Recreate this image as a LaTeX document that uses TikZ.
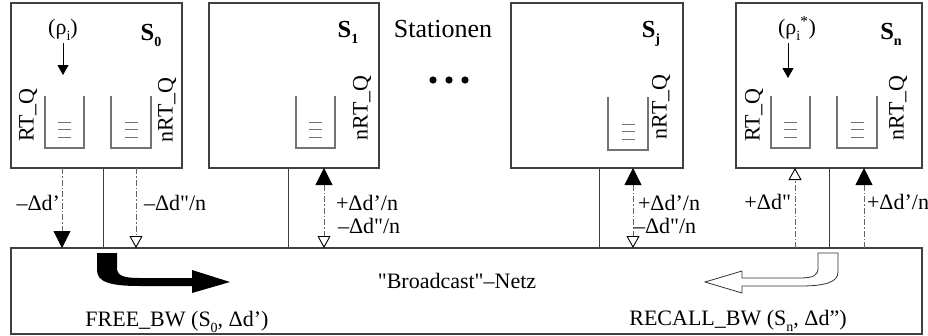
\documentclass[tikz,border=0pt]{standalone}
\usepackage{fontspec}
\setmainfont{Liberation Serif}[Ligatures=TeXOff]
\usetikzlibrary{arrows.meta}
\newcommand{\lowsub}[1]{\raisebox{-0.28em}{\fontsize{14}{14}\selectfont #1}}
\begin{document}
\begin{tikzpicture}[x=1pt,y=-1pt,
  box/.style={draw=black!75, line width=1.1pt, inner sep=0pt, outer sep=0pt},
  txt/.style={inner sep=0pt, outer sep=0pt, font=\fontsize{22}{26}\selectfont},
  big/.style={inner sep=0pt, outer sep=0pt, font=\fontsize{24.5}{28}\selectfont},
  rot/.style={txt, rotate=90},
  queue/.style={draw=black!55, line width=1.3pt},
  qline/.style={draw=black!55, line width=1pt},
  conn/.style={draw=black!75, line width=0.9pt},
  dd/.style={draw=black!60, line width=0.9pt, dash pattern=on 6pt off 2pt on 1.5pt off 2pt},
  fa/.tip={Triangle[width=17pt,length=17pt,color=black]},
  oa/.tip={Triangle[open,width=13pt,length=12pt,color=black]},
  sa/.tip={Triangle[width=11pt,length=10pt,color=black]}
]
\useasboundingbox (0,0) rectangle (928,335);

% station boxes
\node[box, minimum width=171pt, minimum height=165pt] (s0) at (96.5,85.5) {};
\node[box, minimum width=170pt, minimum height=165pt] (s1) at (294,85.5) {};
\node[box, minimum width=172pt, minimum height=165pt] (sj) at (597,85.5) {};
\node[box, minimum width=186pt, minimum height=165pt] (sn) at (829,85.5) {};
% network box
\node[box, minimum width=911pt, minimum height=86pt] (net) at (466.5,291) {};

% station labels
\node[big, anchor=base] (l0) at (151,40) {\textbf{S\lowsub{\textbf{0}}}};
\node[big, anchor=base] (l1) at (348,37) {\textbf{S\lowsub{\textbf{1}}}};
\node[big, anchor=base] (lj) at (651,37) {\textbf{S\lowsub{\textbf{j}}}};
\node[big, anchor=base] (ln) at (891,39) {\textbf{S\lowsub{\textbf{n}}}};
\node[txt, anchor=base, font=\fontsize{26}{30}\selectfont] (stat) at (443,37) {Stationen};
\fill (433,80) circle (3.6pt) (449,80) circle (3.6pt) (465,80) circle (3.6pt);

% rho arrows
\node[txt, anchor=base] (rho0) at (63,34) {(ρ\lowsub{i})};
\node[txt, anchor=base] (rhon) at (797,34) {(ρ\lowsub{i}\textsuperscript{*})};
\coordinate (r0t) at (63,43);
\coordinate (r0b) at (63,75);
\coordinate (rnt) at (788,43);
\coordinate (rnb) at (788,78);
\draw[line width=1pt, -sa] (r0t) -- (r0b);
\draw[line width=1pt, -sa] (rnt) -- (rnb);

% queues
\foreach \l/\r/\t/\b in {45/84/96/148, 111/151/96/148, 296/335/96/148, 608/648/97/150, 771/810/96/148, 837/877/96/148}{
  \draw[queue] (\l,\t) -- (\l,\b) -- (\r,\b) -- (\r,\t);
  \pgfmathsetmacro{\c}{(\l+\r)/2}
  \foreach \yy in {122,129.5,137}{
    \draw[qline] (\c-6.5,\yy+\b-148) -- (\c+6.5,\yy+\b-148);
  }
}

% queue labels
\node[rot] (q0a) at (28,115) {RT\_Q};
\node[rot] (q0b) at (167,110) {nRT\_Q};
\node[rot] (q1b) at (362,108) {nRT\_Q};
\node[rot] (qjb) at (661,107) {nRT\_Q};
\node[rot] (qna) at (754,115) {RT\_Q};
\node[rot] (qnb) at (898,108) {nRT\_Q};

% connector positions
\coordinate (a0) at (103,0);
\coordinate (a1) at (288,0);
\coordinate (aj) at (599,0);
\coordinate (an) at (829,0);
\coordinate (d0a) at (62,0);
\coordinate (d0b) at (136,0);
\coordinate (d1) at (324,0);
\coordinate (dj) at (633,0);
\coordinate (dna) at (795,0);
\coordinate (dnb) at (864,0);

\foreach \p/\s in {a0/s0, a1/s1, aj/sj, an/sn}{
  \draw[conn] (\s.south -| \p) -- (net.north -| \p);
}
\draw[dd, -fa] (s0.south -| d0a) -- (net.north -| d0a);
\draw[dd, -oa] (s0.south -| d0b) -- (net.north -| d0b);
\draw[dd, fa-oa] (s1.south -| d1) -- (net.north -| d1);
\draw[dd, fa-oa] (sj.south -| dj) -- (net.north -| dj);
\draw[dd, -oa] (net.north -| dna) -- (sn.south -| dna);
\draw[dd, -fa] (net.north -| dnb) -- (sn.south -| dnb);

% connector labels
\node[txt, anchor=base east] (t1) at (60,210) {–Δd’};
\node[txt, anchor=base west] (t2) at (144,210) {–Δd"/n};
\node[txt, anchor=base west] (t3) at (336,210) {+Δd’/n};
\node[txt, anchor=base west] (t4) at (338,233) {–Δd"/n};
\node[txt, anchor=base west] (t5) at (638,210) {+Δd’/n};
\node[txt, anchor=base west] (t6) at (634,233) {–Δd"/n};
\node[txt, anchor=base east] (t7) at (791,209) {+Δd"};
\node[txt, anchor=base west] (t8) at (867,209) {+Δd’/n};

% network texts
\node[txt, anchor=base] (bc) at (457,288) {"Broadcast"–Netz};
\node[txt, anchor=base] (fb) at (177,326) {FREE\_BW (S\lowsub{0}, Δd’)};
\node[txt, anchor=base] (rb) at (738,325) {RECALL\_BW (S\lowsub{n}, Δd”)};

% thick arrows
\fill[black] (97,253) -- (117,253) -- (117,268)
  .. controls (117,276) and (124,278) .. (140,278) -- (192,278) -- (192,270)
  -- (230,282) -- (192,293) -- (192,286) -- (140,286)
  .. controls (110,286) and (97,282) .. (97,270) -- cycle;
\draw[fill=white, draw=black!80, line width=0.8pt] (818,253) -- (838,253) -- (838,272)
  .. controls (838,282) and (826,286) .. (800,286) -- (742,286) -- (742,293)
  -- (705,282) -- (742,271) -- (742,278) -- (800,278)
  .. controls (814,278) and (818,275) .. (818,268) -- cycle;
\end{tikzpicture}
\end{document}
